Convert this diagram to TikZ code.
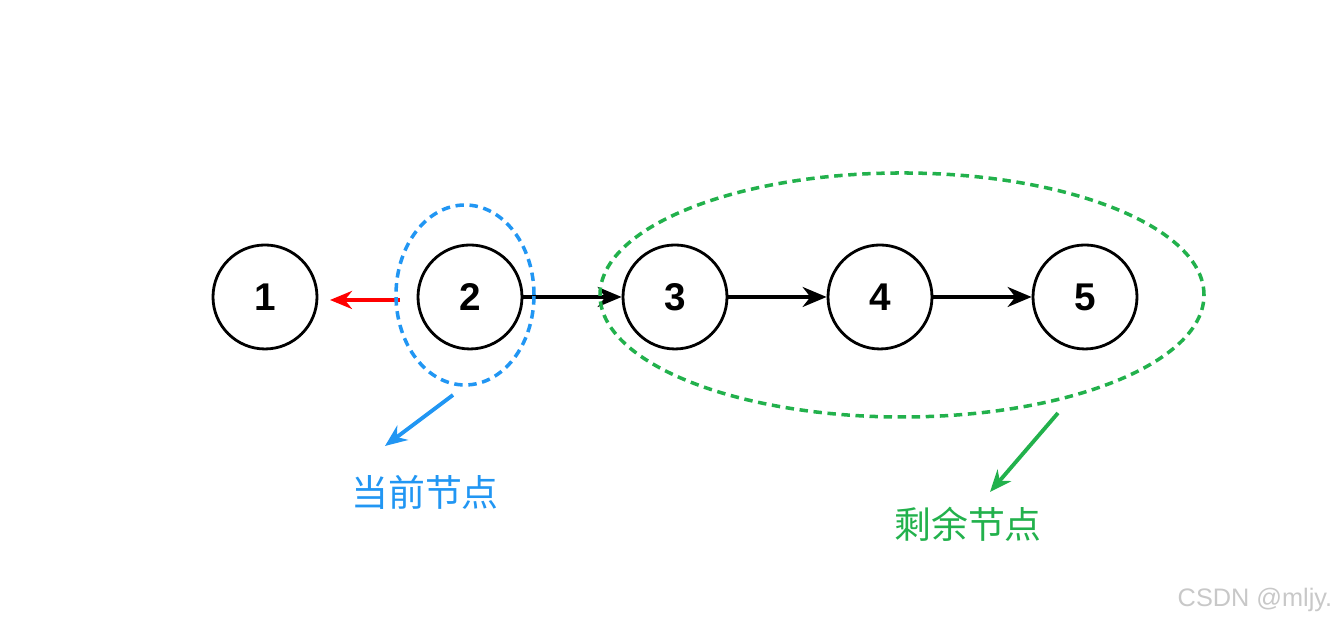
\documentclass[tikz,border=0pt]{standalone}
\usepackage{fontspec}
\setmainfont{Liberation Sans}
\newfontfamily\cjk{Noto Sans CJK SC}
\usetikzlibrary{arrows.meta}
\definecolor{curblue}{RGB}{33,150,243}
\definecolor{restgreen}{RGB}{34,177,76}
\definecolor{markgray}{RGB}{200,200,200}

\begin{document}
\begin{tikzpicture}[
  listnode/.style={circle,draw,line width=0.8pt,minimum size=1.04cm,inner sep=0pt,font=\fontsize{11}{11}\selectfont\bfseries},
  nextarrow/.style={line width=0.9pt,-{Stealth[length=2.4mm,width=2mm]}},
  pointer/.style={line width=1.1pt,-{Stealth[length=2.2mm,width=1.8mm]}},
  groupring/.style={line width=1pt,dash pattern=on 2.4pt off 1.6pt}]
\useasboundingbox (0,0) rectangle (13.33,6.22);
\node[listnode] (n1) at (2.65,3.25) {1};
\node[listnode] (n2) at (4.70,3.25) {2};
\node[listnode] (n3) at (6.75,3.25) {3};
\node[listnode] (n4) at (8.80,3.25) {4};
\node[listnode] (n5) at (10.85,3.25) {5};
\draw[nextarrow] (n2) -- (n3);
\draw[nextarrow] (n3) -- (n4);
\draw[nextarrow] (n4) -- (n5);
\coordinate (redstart) at (4.00,3.22);
\coordinate (redtip) at (3.30,3.22);
\draw[pointer,red] (redstart) -- (redtip);
\draw[groupring,curblue] (4.65,3.27) ellipse[x radius=0.69,y radius=0.90];
\draw[groupring,restgreen] (9.02,3.27) ellipse[x radius=3.02,y radius=1.22];
\coordinate (bluestart) at (4.53,2.27);
\node[text=curblue,font=\cjk\fontsize{10.5}{10.5}\selectfont] (curlabel) at (4.25,1.30) {当前节点};
\draw[pointer,curblue] (bluestart) -- (3.85,1.76);
\coordinate (greenstart) at (10.58,2.09);
\node[text=restgreen,font=\cjk\fontsize{10.5}{10.5}\selectfont] (restlabel) at (9.68,0.98) {剩余节点};
\draw[pointer,restgreen] (greenstart) -- (9.90,1.30);
\node[text=markgray,font=\fontsize{7.2}{7.2}\selectfont,inner sep=0pt] (mark) at (12.55,0.22) {CSDN @mljy.};
\end{tikzpicture}
\end{document}
